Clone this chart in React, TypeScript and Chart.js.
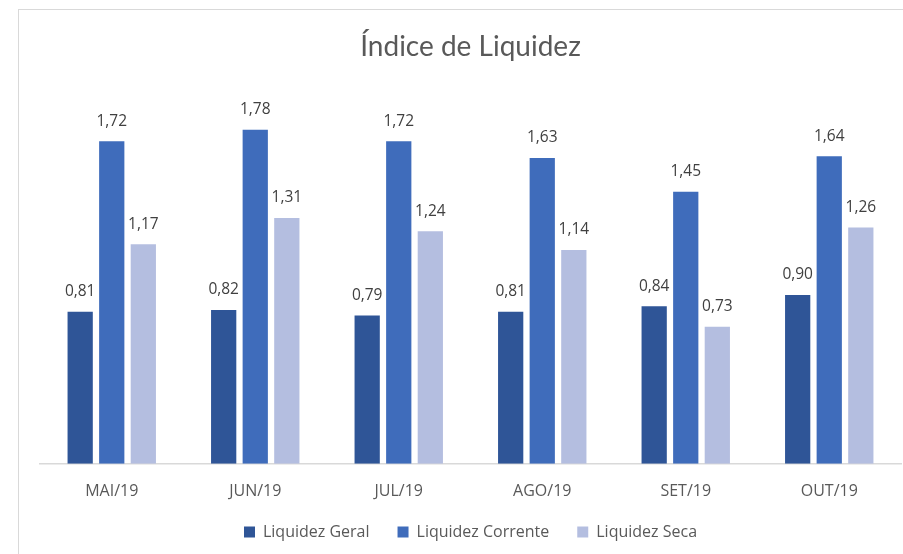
import React, { useEffect, useRef } from "react";
import { Chart, registerables } from "chart.js";

Chart.register(...registerables);

const categories = ["MAI/19", "JUN/19", "JUL/19", "AGO/19", "SET/19", "OUT/19"];
const liquidezGeral = [0.81, 0.82, 0.79, 0.81, 0.84, 0.9];
const liquidezCorrente = [1.72, 1.78, 1.72, 1.63, 1.45, 1.64];
const liquidezSeca = [1.17, 1.31, 1.24, 1.14, 0.73, 1.26];
const seriesNames = ["Liquidez Geral", "Liquidez Corrente", "Liquidez Seca"];
const seriesColors = ["#2F5597", "#3F6CBB", "#B4BEE0"];

const FONT = "'Open Sans', 'Noto Sans', sans-serif";

const dataLabels = {
  id: "dataLabels",
  afterDatasetsDraw(chart: any) {
    const ctx = chart.ctx;
    ctx.save();
    ctx.font = `15.5px ${FONT}`;
    ctx.fillStyle = "#404040";
    ctx.textAlign = "center";
    ctx.textBaseline = "middle";
    chart.data.datasets.forEach((ds: any, i: number) => {
      const meta = chart.getDatasetMeta(i);
      meta.data.forEach((el: any, j: number) => {
        const v = ds.data[j] as number;
        ctx.fillText(v.toFixed(2).replace(".", ","), el.x, el.y - 20);
      });
    });
    ctx.restore();
  },
};

const legendShift = {
  id: "legendShift",
  afterLayout(chart: any) {
    if (chart.legend) {
      chart.legend.top -= 23;
      chart.legend.bottom -= 23;
    }
  },
};

export default function App() {
  const ref = useRef<HTMLCanvasElement | null>(null);
  useEffect(() => {
    if (!ref.current) return;
    const chart = new Chart(ref.current, {
      type: "bar",
      data: {
        labels: categories,
        datasets: [liquidezGeral, liquidezCorrente, liquidezSeca].map((d, i) => ({
          label: seriesNames[i],
          data: d,
          backgroundColor: seriesColors[i],
          borderWidth: 0,
          categoryPercentage: 0.66,
          barPercentage: 0.8,
        })),
      },
      options: {
        animation: false,
        responsive: false,
        maintainAspectRatio: false,
        layout: { padding: { left: 40, right: 2, top: 0, bottom: -19 } },
        plugins: {
          title: {
            display: true,
            text: "Índice de Liquidez",
            color: "#595959",
            font: { family: "Lato, 'Open Sans', sans-serif", size: 28, weight: "normal" as any },
            padding: { top: 30, bottom: 25 },
          },
          legend: {
            position: "bottom",
            labels: {
              boxWidth: 11,
              boxHeight: 11,
              padding: 28,
              color: "#595959",
              font: { family: FONT, size: 16 },
            },
          },
          tooltip: { enabled: false },
        },
        scales: {
          x: {
            grid: { display: false, drawTicks: false },
            border: { display: true, color: "#D9D9D9", width: 1.5 },
            ticks: { color: "#595959", font: { family: FONT, size: 16 }, padding: 18 },
          },
          y: {
            display: false,
            min: 0,
            max: 2,
          },
        },
      },
      plugins: [dataLabels, legendShift],
    });
    return () => chart.destroy();
  }, []);
  return (
    <div style={{ position: "fixed", left: 0, top: 0, width: 903, height: 554, background: "#fff" }}>
      <div
        style={{
          position: "absolute",
          left: 18,
          top: 9,
          width: 903 - 18,
          height: 554 - 9,
          borderTop: "1.5px solid #D9D9D9",
          borderLeft: "1.5px solid #D9D9D9",
          boxSizing: "border-box",
        }}
      />
      <canvas ref={ref} width={903} height={554} style={{ position: "absolute", left: 0, top: 0 }} />
    </div>
  );
}
